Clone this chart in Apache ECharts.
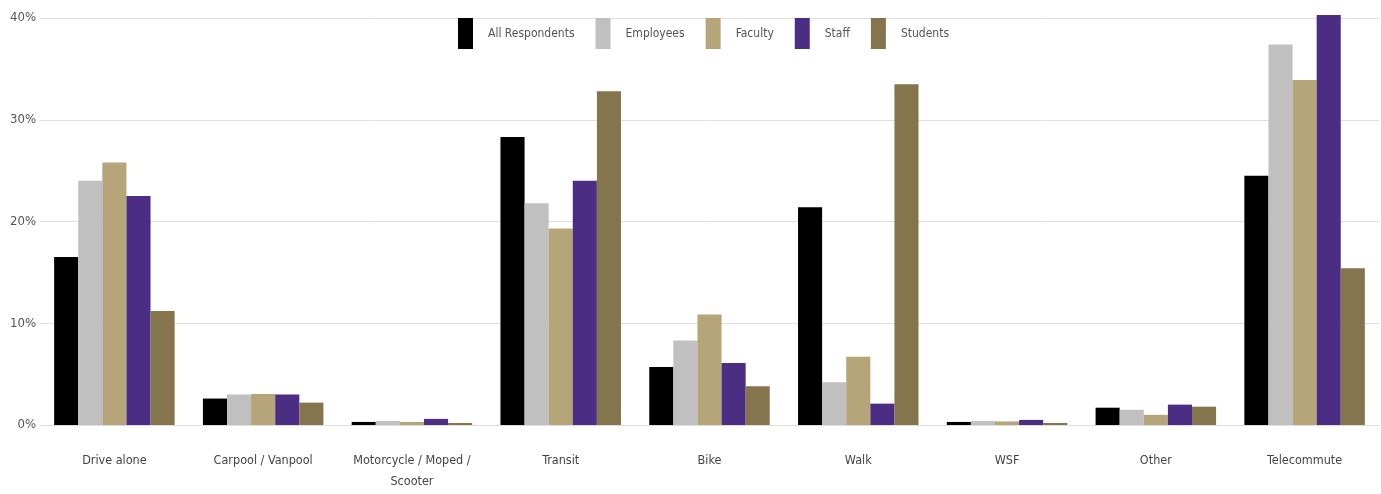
<!DOCTYPE html>
<html><head><meta charset="utf-8">
<script src="https://cdn.jsdelivr.net/npm/echarts@6/dist/echarts.min.js"></script>
<style>html,body{margin:0;padding:0;background:#fff}#c{width:1381px;height:494px}</style>
</head><body><div id="c"></div>
<script>
const categories = ['Drive alone','Carpool / Vanpool','Motorcycle / Moped /\nScooter','Transit','Bike','Walk','WSF','Other','Telecommute'];
const seriesNames = ['All Respondents','Employees','Faculty','Staff','Students'];
const allRespondents = [16.5, 2.6, 0.3, 28.3, 5.7, 21.4, 0.3, 1.7, 24.5];
const employees      = [24.0, 3.0, 0.4, 21.8, 8.3, 4.2, 0.4, 1.5, 37.4];
const faculty        = [25.8, 3.05, 0.3, 19.3, 10.85, 6.7, 0.35, 1.0, 33.9];
const staff          = [22.5, 3.0, 0.6, 24.0, 6.1, 2.1, 0.5, 2.0, 40.3];
const students       = [11.2, 2.2, 0.2, 32.8, 3.8, 33.5, 0.2, 1.8, 15.4];
const yTicks = [0, 10, 20, 30, 40];
const colors = ['#000000','#c0c0c0','#b7a57a','#4b2e83','#85754d'];
const values = [allRespondents, employees, faculty, staff, students];
const FONT = '"DejaVu Sans Condensed", "Liberation Sans", sans-serif';

const chart = echarts.init(document.getElementById('c'));
chart.setOption({
  animation: false,
  color: colors,
  textStyle: { fontFamily: FONT },
  legend: {
    top: 13, left: 453,
    itemWidth: 15, itemHeight: 31, itemGap: 21,
    icon: 'rect',
    textStyle: { fontSize: 12, color: '#555', fontFamily: FONT, padding: [0,0,0,10] },
    data: seriesNames
  },
  grid: { left: 40, right: 2, top: 18, bottom: 69, containLabel: false },
  xAxis: {
    type: 'category', data: categories,
    axisLine: { lineStyle: { color: '#ddd' } },
    axisTick: { show: false },
    axisLabel: { fontSize: 12.5, color: '#444', margin: 25, lineHeight: 21, fontFamily: FONT, interval: 0 }
  },
  yAxis: {
    type: 'value', min: yTicks[0], max: yTicks[yTicks.length-1], interval: 10,
    axisLabel: { formatter: '{value}%', fontSize: 13, color: '#555', margin: 4, fontFamily: FONT },
    splitLine: { lineStyle: { color: '#e0e0e0' } },
    axisLine: { show: false }, axisTick: { show: false }
  },
  series: seriesNames.map((n, i) => ({
    name: n, type: 'bar', data: values[i],
    barGap: '0%', barCategoryGap: '19%', clip: false,
    itemStyle: { color: colors[i] }
  }))
});
</script></body></html>
